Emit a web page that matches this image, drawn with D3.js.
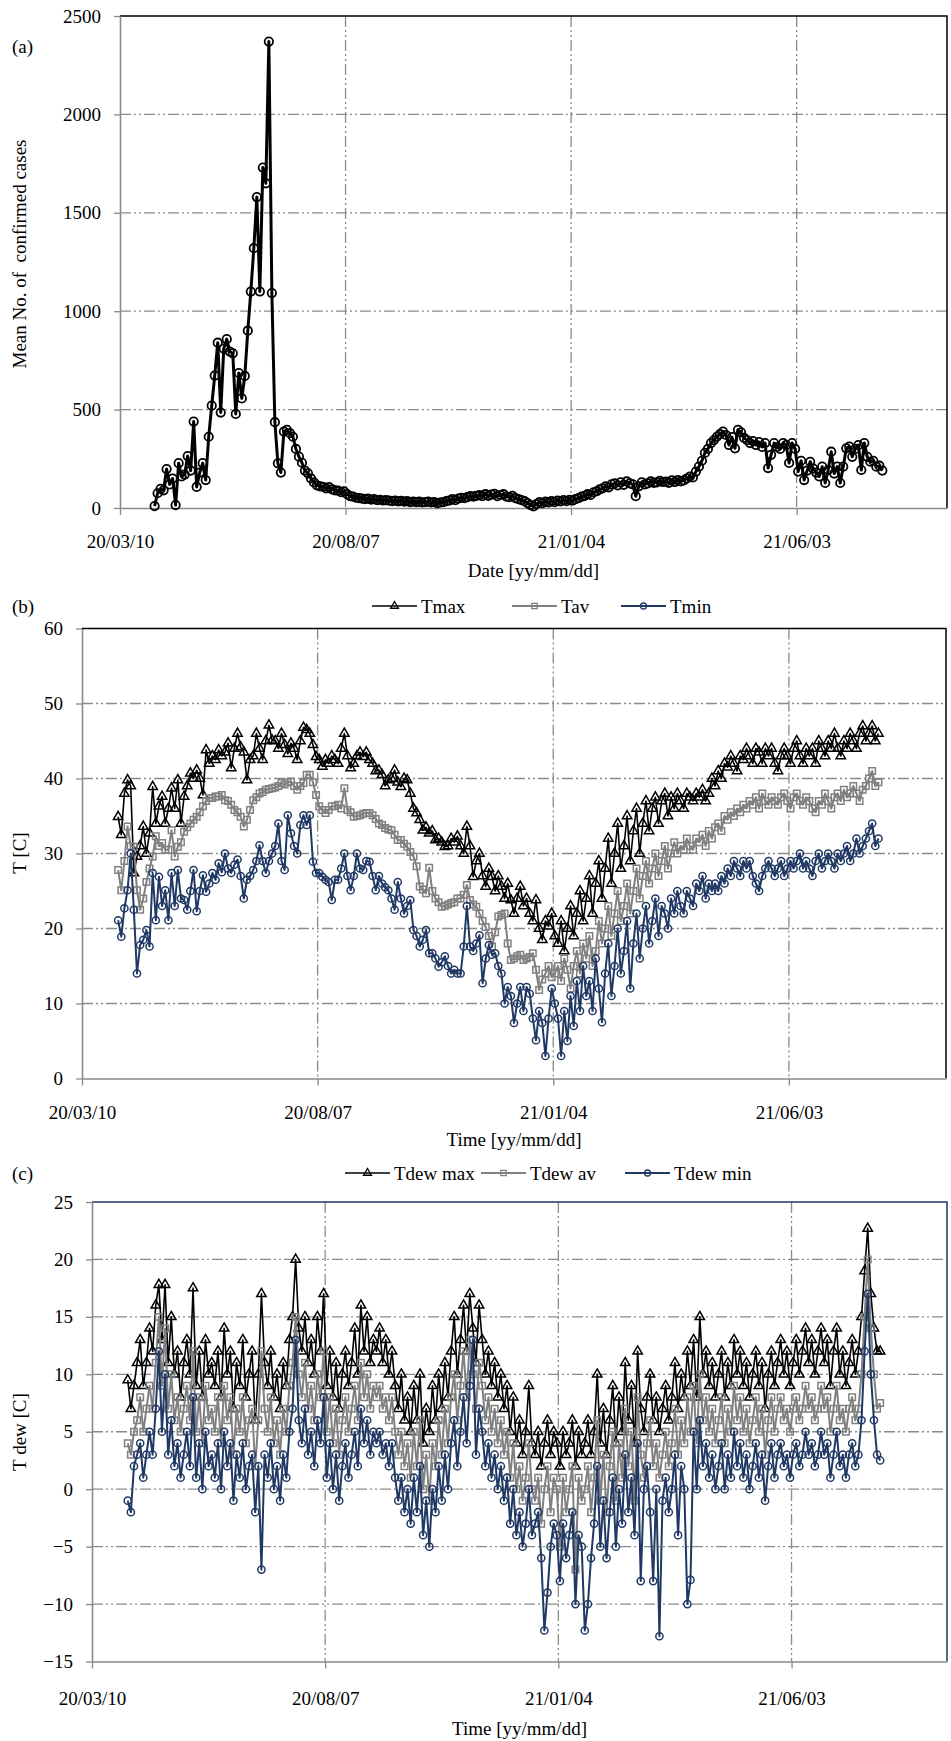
<!DOCTYPE html>
<html>
<head>
<meta charset="utf-8">
<title>Cases and temperatures</title>
<style>
  body { margin: 0; background: #fff; }
  svg text { font-family: "Liberation Serif", "Times New Roman", serif; font-size: 19px; fill: #000; }
</style>
</head>
<body>
<script src="https://cdnjs.cloudflare.com/ajax/libs/d3/7.8.5/d3.min.js"></script>
<script>
// one value every 2 days, first value on 2020-04-02
var firstDay = "2020-04-02";
var stepDays = 2;
var axisStart = "2020-03-10";
var axisDays = 550;
var tickDays = [0, 150, 300, 450];

// (a) mean number of confirmed cases
var cases = [
  10, 75, 97, 90, 198, 120, 150, 15, 228, 160,
  170, 264, 190, 439, 107, 180, 228, 142, 362, 520,
  673, 840, 485, 810, 858, 795, 786, 478, 686, 557,
  671, 901, 1100, 1320, 1580, 1100, 1730, 1650, 2370, 1092,
  436, 227, 180, 388, 397, 380, 362, 300, 261, 230,
  190, 176, 150, 130, 115, 110, 108, 100, 106, 95,
  90, 88, 80, 84, 70, 60, 58, 52, 50, 48,
  45, 48, 42, 45, 40, 42, 38, 40, 37, 35,
  38, 34, 36, 32, 35, 30, 33, 30, 32, 28,
  30, 32, 28, 30, 25, 28, 30, 35, 38, 45,
  40, 48, 52, 50, 55, 60, 58, 62, 65, 60,
  70, 62, 68, 72, 60, 66, 70, 58, 55, 62,
  50, 45, 40, 35, 25, 15, 8, 20, 30, 25,
  32, 28, 35, 30, 38, 33, 40, 35, 42, 38,
  45, 50, 58, 62, 70, 66, 80, 85, 95, 100,
  110, 105, 120, 125, 115, 130, 118, 135, 125, 120,
  60, 110, 130, 120, 125, 135, 128, 130, 138, 132,
  134, 128, 140, 132, 142, 135, 140, 150, 160, 155,
  185, 210, 240, 280, 300, 330, 345, 362, 375, 388,
  371, 320, 360, 303, 397, 385, 356, 345, 330, 340,
  320, 335, 310, 330, 203, 270, 330, 310, 300, 330,
  320, 229, 330, 300, 185, 240, 142, 190, 235, 200,
  180, 160, 210, 127, 193, 286, 175, 210, 127, 210,
  303, 312, 260, 300, 320, 193, 330, 260, 235, 240,
  210, 215, 190
];

// (b) air temperature
var tMax = [
  34.9, 32.5, 38, 39.8, 39, 27.4, 29.6, 31, 33.6, 30,
  32.7, 38.9, 34, 36.3, 37.6, 34, 36, 38.7, 36, 39.8,
  34, 37.6, 39, 40.7, 40, 41.1, 40, 37.8, 43.8, 42,
  43, 42.5, 43.8, 43, 43.5, 44.7, 41.4, 44, 46, 44.2,
  43.5, 39.8, 42.5, 43, 46, 44, 42.5, 45, 47.1, 45.1,
  45, 44, 46, 44.5, 43.3, 44.7, 44, 42.5, 45, 46.8,
  46.5, 46, 44.5, 42.9, 42.5, 41.6, 42.5, 42, 43, 42.5,
  42, 44, 46, 43, 41.4, 42, 43, 43.5, 42.9, 43.5,
  42.5, 42, 41, 41.1, 40.5, 39, 39.8, 40, 41.1, 39.5,
  38.9, 40, 39.8, 38, 36, 35.4, 34.5, 33.1, 33.5, 32.7,
  33, 31.8, 32, 31.5, 30.9, 31, 32, 31.5, 32.3, 31,
  30, 33.6, 31, 26.9, 29, 30, 27, 25.6, 28, 26.9,
  25, 27, 25.6, 24, 26, 23.8, 22, 24, 25.6, 23,
  24, 22, 21, 23.8, 20, 18.5, 21, 20.3, 22, 19,
  18, 21, 17, 20, 23, 19, 22, 25, 21, 24,
  27, 22, 26, 29, 24, 28, 32, 26, 30, 34,
  28, 31, 35, 29, 33, 36, 30, 34, 37, 33,
  36, 37.5, 34, 37, 38, 35, 37.5, 36, 38, 37,
  36, 38, 37.5, 37, 38, 37.5, 38.5, 37, 38, 40,
  39, 41, 40, 42, 41.5, 43, 42, 41, 43, 42.5,
  44, 43, 42, 44, 43.5, 42, 44, 43, 44, 42,
  41, 43, 44, 43, 42, 44, 45, 43, 42, 44,
  43, 44, 42, 45, 44, 43, 45, 44, 46, 44,
  43, 45, 44, 46, 45, 44, 46, 47, 45, 46,
  47, 45, 46
];
var tAv = [
  27.8, 25.1, 29, 33.6, 31, 30.9, 25.1, 22.5, 24, 26.2,
  28, 29.6, 32.3, 31, 31.4, 30.5, 30.5, 33.1, 29.6, 30.9,
  31.5, 32.9, 33.5, 34, 34.5, 34.9, 35.5, 36.3, 37, 37.4,
  37.4, 37.6, 37.6, 37.8, 37.1, 37, 36.5, 35.8, 35.5, 34.9,
  33.6, 34.5, 35.8, 37.1, 37.5, 38, 38.2, 38.5, 38.6, 38.7,
  38.8, 39, 39.4, 39.2, 39.5, 39.6, 39, 38.5, 39, 39.4,
  40.5, 40.5, 39.5, 37.8, 36.3, 35.8, 35.4, 35.8, 36.3, 36.3,
  36.5, 36, 38.7, 35.8, 35.5, 34.9, 35, 35.1, 35.3, 35.4,
  35.4, 35.1, 34.6, 34, 33.8, 33.4, 33.2, 33.1, 32.5, 31.8,
  31.8, 31.3, 30.9, 30.2, 29.6, 28.3, 25.6, 25.2, 24.7, 28.1,
  25, 24, 23.5, 22.9, 23, 23.2, 23.4, 23.5, 24, 24,
  24.5, 25.8, 23.8, 23.2, 22.9, 22, 21, 20.2, 19, 17.6,
  19.5, 21.6, 21.8, 22, 18, 15.8, 16, 16.3, 16.5, 15.8,
  16, 16.2, 16.7, 14.5, 11.8, 13.2, 14, 15, 13.5, 14,
  15, 13, 16, 14.5, 12, 15, 17, 14, 18, 16,
  19, 15, 17, 21, 18, 20, 23, 19, 22, 25,
  21, 23, 26, 22, 25, 28, 24, 27, 29, 26,
  28, 30, 27, 29, 31, 28, 30, 31.5, 30, 31,
  30.5, 32, 31, 30.5, 32, 31.5, 32.5, 31, 33, 32,
  33.5, 34, 33, 35, 34.5, 35.5, 35, 36, 35.5, 36.5,
  36, 37, 36.5, 37.5, 36, 38, 37, 36.5, 37.5, 37,
  36.5, 37.5, 38, 37, 36, 37.5, 38, 37, 36.5, 37.5,
  37, 36, 35.5, 37, 36.5, 38, 37, 36, 37.5, 38,
  37, 38.5, 37.5, 38, 39, 38, 37, 38.5, 39, 40,
  41, 39, 39.5
];
var tMin = [
  21.1, 18.9, 22.7, 25.1, 30, 22.5, 14, 17.8, 18.5, 19.8,
  17.6, 27.4, 21.1, 26.9, 23, 25.1, 21.1, 27.4, 23, 27.8,
  24, 23.8, 22.5, 25, 27.8, 22.3, 25, 27.1, 24.9, 26,
  27.4, 26.5, 28.7, 27.5, 30, 28, 27.4, 28.5, 29.2, 27,
  24, 26.5, 27, 27.8, 29, 31.1, 29, 27.4, 29, 30,
  31, 34, 29, 27.8, 35.1, 32.7, 31, 30, 33.8, 35.1,
  33.8, 35.1, 28.9, 27.4, 27.4, 26.9, 26.5, 26.2, 23.8, 26.5,
  26.5, 28, 30, 27, 25.1, 27, 30, 28, 27.8, 29,
  28.9, 27, 25.1, 27, 26, 25.5, 25.1, 24, 22.5, 26.2,
  24, 22, 23, 23.8, 19.8, 19, 17.6, 18.5, 19.8, 16.7,
  16.7, 16, 14.9, 15.5, 16.3, 15, 14, 14.5, 14, 14,
  17.6, 23, 17.6, 17, 18, 19.1, 12.7, 16, 17.8, 16.5,
  16.7, 15, 14, 10, 12.2, 11, 7.4, 10, 12.2, 9,
  12.2, 11.3, 8, 5.1, 9, 7.4, 3, 8, 12, 10,
  8, 3, 9, 5, 11, 7, 13, 9, 15, 11,
  13, 9, 16, 12, 7.5, 14, 18, 11, 15, 20,
  14, 17, 21, 12, 18, 22, 16, 20, 23, 18,
  21, 24, 19, 23, 22, 20, 24, 22, 25, 23,
  22, 25, 24, 23, 26, 25, 27, 24, 26, 25,
  26, 25, 27, 26, 28, 27, 29, 28, 27, 29,
  28, 29, 27, 26, 25, 27, 28, 29, 28, 27,
  28, 29, 27, 28, 29, 28, 29, 30, 28, 29,
  28, 27, 29, 30, 28, 29, 30, 29, 28, 30,
  29, 30, 31, 29, 30, 32, 30, 31, 32, 33,
  34, 31, 32
];

// (c) dew point temperature
var dewMax = [
  9.5, 7, 9, 11, 13, 9, 11, 14, 12, 16,
  17.8, 13, 17.8, 11, 15, 10, 12, 8, 11, 13,
  10, 17.5, 9, 12, 8, 13, 10, 11, 9, 12,
  8, 14, 10, 12, 7, 11, 9, 13, 8, 10,
  12, 6, 10, 17, 11, 9, 12, 8, 10, 7,
  11, 9, 13, 15, 20, 14, 12, 15, 11, 13,
  10, 15, 12, 17, 9, 12, 8, 11, 7, 10,
  12, 9, 11, 14, 10, 16, 12, 15, 11, 13,
  12, 14, 11, 13, 10, 12, 9, 7, 10, 6,
  8, 5, 9, 6, 10, 4, 7, 5, 9, 6,
  10, 7, 11, 8, 12, 15, 10, 13, 16, 12,
  17, 14, 11, 16, 13, 10, 12, 9, 11, 8,
  10, 7, 9, 5, 8, 4, 6, 3, 5, 9,
  4, 3, 5, 2, 4, 6, 3, 5, 4, 2,
  5, 3, 4, 6, 2, 5, 3, 4, 6, 3,
  5, 10, 4, 7, 3, 6, 9, 4, 8, 5,
  11, 6, 9, 4, 12, 7, 5, 8, 10, 6,
  8, 5, 7, 9, 6, 8, 11, 7, 10, 8,
  12, 9, 13, 8, 15, 10, 12, 9, 11, 8,
  10, 12, 8, 11, 9, 13, 10, 12, 9, 11,
  8, 10, 12, 9, 11, 7, 10, 12, 9, 11,
  13, 10, 12, 9, 11, 13, 10, 12, 14, 11,
  13, 10, 12, 14, 11, 13, 9, 12, 14, 10,
  12, 9, 11, 13, 10, 12, 15, 19, 22.7, 17,
  14, 12, 12
];
var dewAv = [
  4, 3, 5, 6, 8, 5, 7, 9, 7, 11,
  15, 9, 14, 7, 10, 6, 8, 5, 7, 9,
  6, 12, 5, 8, 4, 9, 6, 7, 5, 8,
  4, 9, 6, 8, 3, 7, 5, 8, 4, 6,
  7, 2, 6, 12, 7, 5, 8, 4, 6, 3,
  7, 5, 9, 11, 15, 10, 8, 11, 7, 9,
  6, 10, 8, 12, 5, 8, 4, 7, 3, 6,
  8, 5, 7, 9, 6, 11, 8, 10, 7, 9,
  8, 9, 7, 8, 6, 8, 5, 3, 5, 2,
  4, 1, 5, 2, 6, 0, 3, -1, 4, 2,
  6, 3, 7, 4, 8, 10, 6, 9, 12, 8,
  13, 10, 7, 11, 9, 6, 8, 5, 7, 4,
  6, 3, 5, 1, 4, 0, 2, -1, 1, 4,
  0, -1, 1, -3, 0, 2, -2, 1, 0, -5,
  1, -2, 0, 2, -7, 1, -1, 0, 2, -2,
  1, 6, -1, 3, -2, 2, 5, -1, 4, 1,
  7, 2, 5, -1, 8, 3, 1, 4, 6, 2,
  4, 1, 3, 5, 2, 4, 7, 3, 6, 4,
  8, 5, 9, 4, 10, 6, 8, 5, 7, 4,
  6, 8, 4, 7, 5, 9, 6, 8, 5, 7,
  4, 6, 8, 5, 7, 3, 6, 8, 5, 7,
  8, 6, 7, 5, 7, 8, 6, 7, 9, 7,
  8, 6, 7, 9, 7, 8, 5, 7, 9, 6,
  7, 5, 7, 8, 6, 7, 10, 15, 20, 14,
  10, 7, 7.5
];
var dewMin = [
  -1, -2, 2, 3, 4, 1, 3, 5, 3, 7,
  12, 5, 10, 3, 6, 2, 4, 1, 3, 5,
  2, 8, 1, 4, 0, 5, 2, 3, 1, 4,
  0, 5, 2, 4, -1, 3, 1, 4, 0, 2,
  3, -2, 2, -7, 3, 1, 4, 0, 2, -1,
  3, 1, 5, 7, 13, 6, 4, 7, 3, 5,
  2, 6, 4, 8, 1, 4, 0, 3, -1, 2,
  4, 1, 3, 5, 2, 7, 4, 6, 3, 5,
  4, 5, 3, 4, 2, 4, 1, -1, 1, -2,
  0, -3, 1, -2, 2, -4, -1, -5, 0, -2,
  2, -1, 3, 0, 4, 6, 2, 5, 8, 4,
  9, 13, 3, 7, 5, 2, 4, 1, 3, 0,
  2, -1, 1, -3, 0, -4, -2, -5, -3, 0,
  -4, -3, -2, -6, -12.3, -9, -5, -3, -4, -8,
  -3, -6, -4, -2, -10, -4, -5, -12.3, -10, -6,
  -3, 2, -5, -1, -6, -2, 1, -5, 0, -3,
  3, -2, 1, -4, 4, -8, 0, 2, -2, -8,
  0, -12.8, -1, 1, -2, 0, 3, -4, 2, 0,
  -10, -7.9, 5, 0, 6, 2, 4, 1, 3, 0,
  2, 4, 0, 3, 1, 5, 2, 4, 1, 3,
  0, 2, 4, 1, 3, -1, 2, 4, 1, 3,
  4, 2, 3, 1, 3, 4, 2, 3, 5, 3,
  4, 2, 3, 5, 3, 4, 1, 3, 5, 2,
  3, 1, 3, 4, 2, 3, 6, 12, 17, 10,
  6, 3, 2.5
];

var W = 951, H = 1741;
var navy = "#1f3864", grey = "#808080", gridCol = "#8a8a8a", axisCol = "#8a8a8a";

var svg = d3.select("body").append("svg")
    .attr("width", W)
    .attr("height", H);

var parse = d3.utcParse("%Y-%m-%d");
var t0 = parse(axisStart);
var t1 = d3.utcDay.offset(t0, axisDays);
var tickDates = tickDays.map(function(d) { return d3.utcDay.offset(t0, d); });
var start = parse(firstDay);
var fmt = d3.utcFormat("%y/%m/%d");

function toPoints(values) {
    return values.map(function(v, i) {
        return { date: d3.utcDay.offset(start, i * stepDays), v: v };
    });
}

function drawMarker(sel, shape, color, size, sw) {
    if (shape === "circle") {
        sel.append("circle").attr("r", size)
            .attr("fill", "none").attr("stroke", color).attr("stroke-width", sw);
    } else {
        var sym = shape === "triangle" ? d3.symbolTriangle : d3.symbolSquare;
        sel.append("path").attr("d", d3.symbol(sym, size)())
            .attr("fill", "none").attr("stroke", color).attr("stroke-width", sw);
    }
}

function drawPanel(cfg) {
    var g = svg.append("g");
    var x = d3.scaleUtc().domain([t0, t1]).range([cfg.left, cfg.right]);
    var y = d3.scaleLinear().domain(cfg.yDomain).range([cfg.bottom, cfg.top]);

    // grid
    g.selectAll(".hgrid")
        .data(cfg.yTicks.filter(function(v) { return v !== cfg.yDomain[0] && v !== cfg.yDomain[1]; }))
        .enter().append("line")
        .attr("x1", cfg.left).attr("x2", cfg.right)
        .attr("y1", function(d) { return y(d); }).attr("y2", function(d) { return y(d); })
        .attr("stroke", gridCol).attr("stroke-width", 1.3)
        .attr("stroke-dasharray", "11,3,2,3,2,3");
    g.selectAll(".vgrid")
        .data(tickDates.slice(1))
        .enter().append("line")
        .attr("x1", function(d) { return x(d); }).attr("x2", function(d) { return x(d); })
        .attr("y1", cfg.top).attr("y2", cfg.bottom)
        .attr("stroke", gridCol).attr("stroke-width", 1.3)
        .attr("stroke-dasharray", "11,3,2,3,2,3");

    // top and right border
    g.append("path")
        .attr("d", "M" + cfg.left + "," + cfg.top + "H" + cfg.right + "V" + cfg.bottom)
        .attr("fill", "none").attr("stroke", cfg.border).attr("stroke-width", 1.5);

    // axes
    var ya = g.append("g")
        .attr("transform", "translate(" + cfg.left + ",0)")
        .call(d3.axisLeft(y).tickValues(cfg.yTicks).tickFormat(d3.format("d"))
            .tickSize(6).tickSizeOuter(0).tickPadding(13));
    var xa = g.append("g")
        .attr("transform", "translate(0," + cfg.bottom + ")")
        .call(d3.axisBottom(x).tickValues(tickDates).tickFormat(fmt)
            .tickSize(7).tickSizeOuter(0).tickPadding(cfg.xPad));
    [ya, xa].forEach(function(a) {
        a.attr("font-size", null).attr("font-family", null);
        a.select(".domain").attr("stroke", axisCol).attr("stroke-width", 1.6);
        a.selectAll(".tick line").attr("stroke", axisCol).attr("stroke-width", 1.3);
    });

    // series
    cfg.series.forEach(function(s) {
        var pts = toPoints(s.values);
        g.append("path")
            .datum(pts)
            .attr("fill", "none")
            .attr("stroke", s.color)
            .attr("stroke-width", s.width)
            .attr("stroke-linejoin", "round")
            .attr("d", d3.line().x(function(d) { return x(d.date); }).y(function(d) { return y(d.v); }));
        var m = g.append("g").selectAll("g")
            .data(pts).enter().append("g")
            .attr("transform", function(d) { return "translate(" + x(d.date) + "," + y(d.v) + ")"; });
        drawMarker(m, s.shape, s.color, s.size, s.mw);
    });

    // legend
    if (cfg.legend) {
        cfg.series.forEach(function(s, i) {
            var lx = cfg.legend[i];
            var lg = g.append("g");
            lg.append("line")
                .attr("x1", lx).attr("x2", lx + 45)
                .attr("y1", cfg.legendY).attr("y2", cfg.legendY)
                .attr("stroke", s.color).attr("stroke-width", s.width);
            var mk = lg.append("g").attr("transform", "translate(" + (lx + 22.5) + "," + cfg.legendY + ")");
            drawMarker(mk, s.shape, s.color, s.shape === "circle" ? 3 : s.size * 0.7, 1.3);
            lg.append("text")
                .attr("x", lx + 49).attr("y", cfg.legendY + 6.5)
                .text(s.name);
        });
    }

    // labels
    g.append("text").attr("x", 12).attr("y", cfg.tagY).text(cfg.tag);
    g.append("text")
        .attr("x", (cfg.left + cfg.right) / 2)
        .attr("y", cfg.xTitleY)
        .attr("text-anchor", "middle")
        .text(cfg.xTitle);
    g.append("text")
        .attr("transform", "translate(26," + cfg.yTitleY + ") rotate(-90)")
        .attr("text-anchor", "middle")
        .attr("xml:space", "preserve")
        .text(cfg.yTitle);
}

drawPanel({
    left: 120, right: 947, top: 16, bottom: 508,
    yDomain: [0, 2500], yTicks: [0, 500, 1000, 1500, 2000, 2500],
    border: "#000", xPad: 20,
    tag: "(a)", tagY: 53,
    xTitle: "Date [yy/mm/dd]", xTitleY: 577,
    yTitle: "Mean No. of  confirmed cases", yTitleY: 254,
    series: [
        { name: "cases", values: cases, color: "#000", width: 3, shape: "circle", size: 4.2, mw: 1.8 }
    ]
});

drawPanel({
    left: 82, right: 946, top: 628.5, bottom: 1078.5,
    yDomain: [0, 60], yTicks: [0, 10, 20, 30, 40, 50, 60],
    border: "#000", xPad: 20,
    tag: "(b)", tagY: 613,
    xTitle: "Time [yy/mm/dd]", xTitleY: 1146,
    yTitle: "T [C]", yTitleY: 853,
    legendY: 606,
    legend: [372, 512, 621],
    series: [
        { name: "Tmax", values: tMax, color: "#000", width: 1.6, shape: "triangle", size: 38, mw: 1.5 },
        { name: "Tav", values: tAv, color: grey, width: 2, shape: "square", size: 42, mw: 1.5 },
        { name: "Tmin", values: tMin, color: navy, width: 2, shape: "circle", size: 3.6, mw: 1.5 }
    ]
});

drawPanel({
    left: 92, right: 947, top: 1202, bottom: 1661.5,
    yDomain: [-15, 25], yTicks: [-15, -10, -5, 0, 5, 10, 15, 20, 25],
    border: navy, xPad: 23,
    tag: "(c)", tagY: 1180,
    xTitle: "Time [yy/mm/dd]", xTitleY: 1735,
    yTitle: "T dew [C]", yTitleY: 1432,
    legendY: 1173,
    legend: [345, 481, 625],
    series: [
        { name: "Tdew max", values: dewMax, color: "#000", width: 1.6, shape: "triangle", size: 38, mw: 1.5 },
        { name: "Tdew av", values: dewAv, color: grey, width: 2, shape: "square", size: 42, mw: 1.5 },
        { name: "Tdew min", values: dewMin, color: navy, width: 2, shape: "circle", size: 3.6, mw: 1.5 }
    ]
});
</script>
</body>
</html>
